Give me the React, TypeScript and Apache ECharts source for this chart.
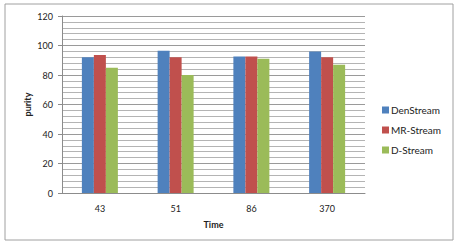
import React, { useEffect, useRef } from "react";
import * as echarts from "echarts";

const categories = ["43", "51", "86", "370"];
const denStream = [92, 96.5, 92.5, 96];
const mrStream = [93.5, 92, 92.5, 92];
const dStream = [85, 80, 91, 87];
const seriesNames = ["DenStream", "MR-Stream", "D-Stream"];
const colors = ["#4F81BD", "#C0504D", "#9BBB59"];

export default function App() {
  const ref = useRef<HTMLDivElement>(null);
  useEffect(() => {
    if (!ref.current) return;
    const chart = echarts.init(ref.current, null, { renderer: "svg" });
    const font = "Lato, 'Open Sans', sans-serif";
    const mk = (name: string, data: number[], color: string) => ({
      name,
      type: "bar",
      data,
      barWidth: 12,
      barGap: "0%",
      itemStyle: { color },
    });
    chart.setOption({
      animation: false,
      backgroundColor: "#ffffff",
      textStyle: { fontFamily: font },
      graphic: [
        {
          type: "rect",
          shape: { x: 5, y: 4, width: 448, height: 236 },
          style: { fill: "none", stroke: "#a0a0a0", lineWidth: 1 },
          silent: true,
        },
      ],
      legend: {
        orient: "vertical",
        left: 377,
        top: 100,
        itemWidth: 7,
        itemHeight: 7,
        itemGap: 10,
        icon: "rect",
        data: seriesNames,
        textStyle: { fontSize: 10, color: "#222", fontFamily: font, padding: [0, 0, 0, -3] },
      },
      grid: { left: 62, top: 16, width: 303, height: 177, containLabel: false },
      xAxis: {
        type: "category",
        data: categories,
        name: "Time",
        nameLocation: "middle",
        nameGap: 27,
        nameTextStyle: { fontWeight: "bold", fontSize: 9, color: "#222", fontFamily: font },
        axisLine: { lineStyle: { color: "#8c8c8c" } },
        axisTick: { show: false },
        axisLabel: { fontSize: 9, color: "#222", margin: 11 },
      },
      yAxis: {
        type: "value",
        min: 0,
        max: 120,
        interval: 20,
        name: "purity",
        nameLocation: "middle",
        nameGap: 30,
        nameMoveOverlap: false,
        nameTextStyle: { fontWeight: "bold", fontSize: 9, color: "#222", fontFamily: font },
        axisLine: { show: true, lineStyle: { color: "#8c8c8c" } },
        axisTick: { show: true, length: 4, lineStyle: { color: "#8c8c8c" } },
        axisLabel: { fontSize: 9, color: "#222", margin: 9 },
        splitLine: { lineStyle: { color: "#9a9a9a", width: 1 } },
        minorTick: { show: false, splitNumber: 5 },
        minorSplitLine: { show: true, lineStyle: { color: "#b4b4b4", width: 1 } },
      },
      series: [
        mk(seriesNames[0], denStream, colors[0]),
        mk(seriesNames[1], mrStream, colors[1]),
        mk(seriesNames[2], dStream, colors[2]),
      ],
    });
    return () => chart.dispose();
  }, []);
  return (
    <div
      ref={ref}
      style={{ position: "fixed", left: 0, top: 0, width: 459, height: 244 }}
    />
  );
}
